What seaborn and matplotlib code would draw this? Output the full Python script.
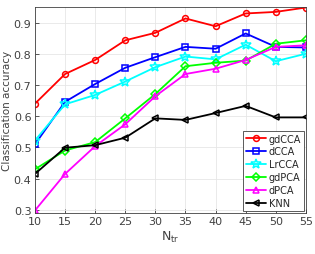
import numpy as np
import pandas as pd
import matplotlib
matplotlib.use("Agg")
import matplotlib.pyplot as plt
import seaborn as sns

n_tr = [10, 15, 20, 25, 30, 35, 40, 45, 50, 55]
gdcca = [0.640, 0.735, 0.780, 0.843, 0.867, 0.913, 0.888, 0.929, 0.934, 0.948]
dcca = [0.510, 0.646, 0.703, 0.755, 0.789, 0.822, 0.816, 0.865, 0.822, 0.820]
lrcca = [0.522, 0.638, 0.668, 0.711, 0.757, 0.791, 0.782, 0.829, 0.776, 0.800]
gdpca = [0.430, 0.490, 0.517, 0.593, 0.671, 0.760, 0.771, 0.778, 0.832, 0.843]
dpca = [0.298, 0.415, 0.504, 0.574, 0.664, 0.735, 0.752, 0.780, 0.822, 0.827]
knn = [0.415, 0.499, 0.507, 0.531, 0.593, 0.588, 0.610, 0.633, 0.596, 0.596]

methods = ["gdCCA", "dCCA", "LrCCA", "gdPCA", "dPCA", "KNN"]
colors = ["#ff0000", "#0000ff", "#00ffff", "#00ff00", "#ff00ff", "#000000"]
markers = ["o", "s", "*", "D", "^", "<"]
sizes = [4.2, 3.8, 7, 3.8, 5, 5]

df = pd.DataFrame({"N": n_tr, "gdCCA": gdcca, "dCCA": dcca, "LrCCA": lrcca,
                   "gdPCA": gdpca, "dPCA": dpca, "KNN": knn})
long = df.melt(id_vars="N", var_name="method", value_name="acc")

sns.set_style("ticks")
plt.rcParams["font.family"] = ["DejaVu Sans"]

fig = plt.figure(figsize=(3.15, 2.55), dpi=100)
ax = fig.add_axes([0.111, 0.161, 0.860, 0.808])

for m, c, mk, ms in zip(methods, colors, markers, sizes):
    sub = long[long["method"] == m]
    sns.lineplot(data=sub, x="N", y="acc", ax=ax, color=c, marker=mk,
                 markersize=ms, markerfacecolor="none", markeredgecolor=c,
                 markeredgewidth=1.1, linewidth=1.3, label=m)

ax.set_xlim(10, 55)
ax.set_ylim(0.29, 0.95)
ax.set_xticks(n_tr)
ax.set_yticks([0.3, 0.4, 0.5, 0.6, 0.7, 0.8, 0.9])
ax.set_yticklabels(["0.3", "0.4", "0.5", "0.6", "0.7", "0.8", "0.9"])
ax.grid(True, color="#e6e6e6", linewidth=0.6)
ax.set_axisbelow(True)
ax.tick_params(direction="in", labelsize=8, colors="#404040", length=3, width=0.6,
               pad=2.5)
for s in ax.spines.values():
    s.set_color("#404040")
    s.set_linewidth(0.6)
ax.set_xlabel("N$_{\\mathregular{tr}}$", fontsize=9, color="#404040", labelpad=2)
ax.set_ylabel("Classification accuracy", fontsize=7.5, color="#404040", labelpad=1)

leg = ax.legend(loc="lower right", fontsize=7, frameon=True, fancybox=False,
                edgecolor="#404040", framealpha=1, handlelength=2.0,
                handletextpad=0.3, borderpad=0.3, labelspacing=0.3,
                borderaxespad=0.2)
leg.get_frame().set_linewidth(0.6)

fig.savefig("out.png", dpi=100)
